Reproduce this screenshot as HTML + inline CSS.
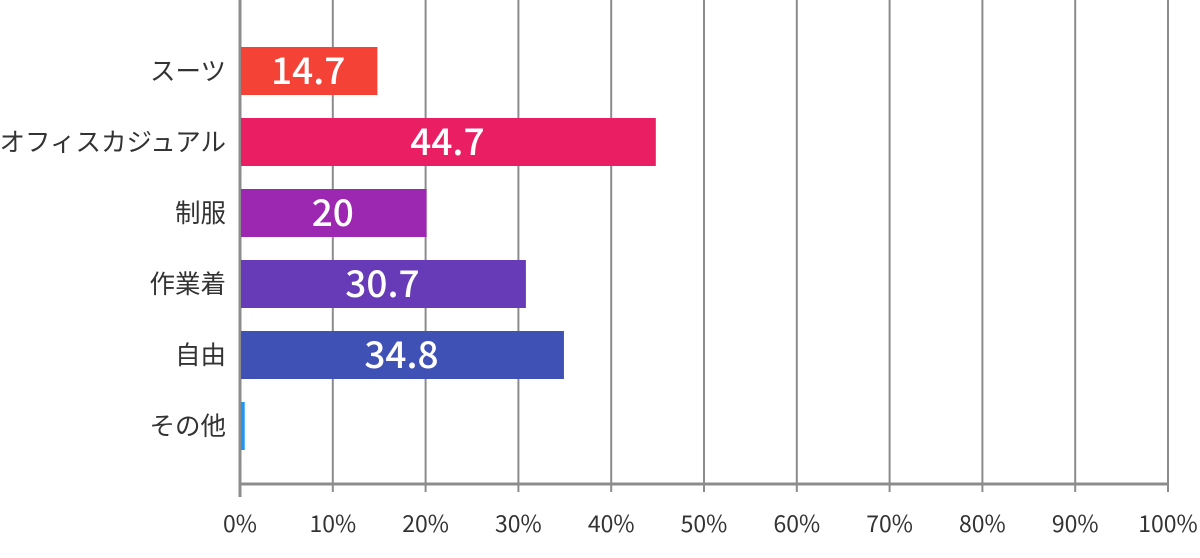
<!DOCTYPE html>
<html><head><meta charset="utf-8"><style>
body{margin:0;background:#fff;}
svg{display:block;font-family:"Noto Sans CJK JP","Liberation Sans",sans-serif;}
</style></head><body>
<svg id="c" width="1200" height="558"></svg>
<script>
const categories=["スーツ","オフィスカジュアル","制服","作業着","自由","その他"];
const values=[14.7,44.7,20,30.7,34.8,0.4];
const labels=["14.7","44.7","20","30.7","34.8",""];
const colors=["#f44336","#e91e63","#9c27b0","#673ab7","#3f51b5","#2196f3"];
const ticks=[0,10,20,30,40,50,60,70,80,90,100];
const NS="http://www.w3.org/2000/svg";
const svg=document.getElementById('c');
const x0=240,x1=1168,axisY=484;
const xs=v=>x0+(x1-x0)*v/100;
const ys=i=>47+71*i;
function mk(t,a){const e=document.createElementNS(NS,t);for(const k in a)e.setAttribute(k,a[k]);svg.appendChild(e);return e;}
ticks.forEach(t=>{
  const g=mk('line',{x1:xs(t),x2:xs(t),y1:0,y2:t===0?497:492,stroke:'#8c8c8c','stroke-width':t===0?3:2});
  
  
  const l=mk('text',{x:xs(t),y:532,'text-anchor':'middle','font-size':23,fill:'#333'});
  l.textContent=t+'%';
  
  
});
const ax=mk('line',{x1:x0,x2:x1,y1:axisY,y2:axisY,stroke:'#8c8c8c','stroke-width':3});


categories.forEach((c,i)=>{
  const y=ys(i);
  const b=mk('rect',{x:x0+1,y:y,width:xs(values[i])-x0,height:48,fill:colors[i]});
  
  
  const cl=mk('text',{x:226,y:y+33,'text-anchor':'end','font-size':25.5,fill:'#333'});
  cl.textContent=c;
  
  
  if(labels[i]){
    const v=mk('text',{x:(x0+xs(values[i]))/2,y:y+37,'text-anchor':'middle','font-size':37,'font-weight':500,fill:'#fff'});
    v.textContent=labels[i];
    
    
  }
});
</script>
</body></html>
